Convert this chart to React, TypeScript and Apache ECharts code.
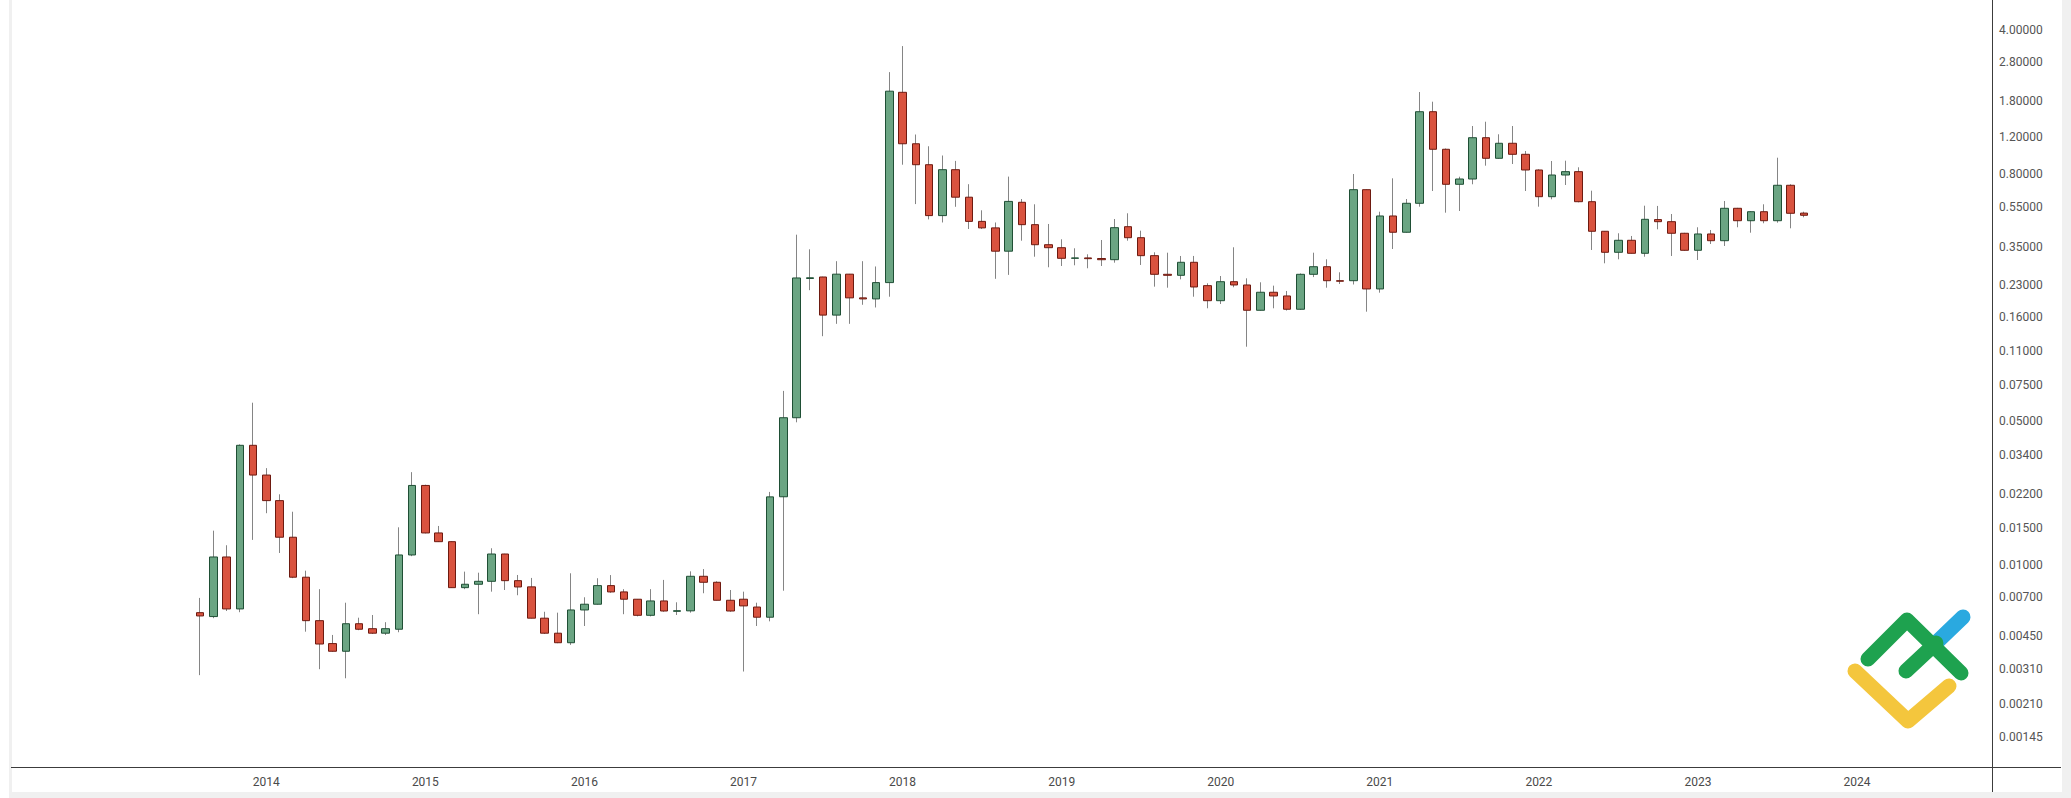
import React, { useEffect, useRef } from 'react';
import * as echarts from 'echarts';

// ---- data (monthly XRP/USD style candles, Aug 2013 .. Sep 2023) ----
const FIRST_AXIS_MONTH = { year: 2012, month: 6 };
const AXIS_MONTH_COUNT = 150;
const FIRST_CANDLE_MONTH = { year: 2013, month: 8 };

const opens = [
  0.00584, 0.00559, 0.0109, 0.00609, 0.0381, 0.0273, 0.0205, 0.0136, 0.00869, 0.00534,
  0.00413, 0.00379, 0.00516, 0.00488, 0.00464, 0.00485, 0.01115, 0.0243, 0.01427, 0.01294,
  0.00773, 0.00803, 0.0083, 0.01127, 0.00836, 0.0078, 0.00549, 0.00464, 0.00417, 0.00602,
  0.00642, 0.00791, 0.00737, 0.00679, 0.00567, 0.00666, 0.00593, 0.00596, 0.00878, 0.00821,
  0.00671, 0.00679, 0.00622, 0.00555, 0.0214, 0.0519, 0.247, 0.2512, 0.1639, 0.2593,
  0.1988, 0.1965, 0.2359, 1.99, 1.118, 0.884, 0.4998, 0.836, 0.6143, 0.4684,
  0.4355, 0.3354, 0.5802, 0.4515, 0.3607, 0.3488, 0.3097, 0.311, 0.309, 0.305,
  0.4414, 0.3902, 0.319, 0.2589, 0.256, 0.2962, 0.228, 0.1926, 0.2383, 0.2297,
  0.173, 0.2117, 0.2031, 0.175, 0.2589, 0.2819, 0.241, 0.241, 0.6683, 0.2197,
  0.4977, 0.4147, 0.5737, 1.6011, 1.051, 0.7099, 0.7531, 1.1964, 0.9499, 1.124,
  0.9934, 0.8332, 0.6177, 0.7877, 0.8177, 0.5841, 0.4193, 0.3313, 0.379, 0.3276,
  0.478, 0.4669, 0.41, 0.3388, 0.4068, 0.3773, 0.5425, 0.472, 0.5221, 0.472,
  0.7021, 0.514,
];

const closes = [
  0.00563, 0.0109, 0.00609, 0.0381, 0.0273, 0.0205, 0.0136, 0.00869, 0.00534, 0.00411,
  0.00379, 0.00516, 0.00485, 0.00464, 0.00488, 0.01115, 0.0243, 0.01427, 0.01294, 0.00773,
  0.00803, 0.0083, 0.01127, 0.00836, 0.00779, 0.00549, 0.00464, 0.00417, 0.00602, 0.00642,
  0.00791, 0.00737, 0.00679, 0.00567, 0.00666, 0.00595, 0.00597, 0.00878, 0.00821, 0.00671,
  0.00595, 0.0063, 0.00555, 0.02138, 0.0519, 0.2485, 0.249, 0.1639, 0.2593, 0.1988,
  0.1965, 0.2359, 2.015, 1.118, 0.884, 0.4998, 0.836, 0.6143, 0.4684, 0.4355,
  0.3354, 0.586, 0.4515, 0.3607, 0.3488, 0.3097, 0.311, 0.3085, 0.3049, 0.4365,
  0.3902, 0.319, 0.2589, 0.256, 0.2962, 0.2246, 0.1926, 0.2383, 0.2297, 0.173,
  0.2117, 0.2031, 0.175, 0.2589, 0.2819, 0.241, 0.2395, 0.6683, 0.2197, 0.4977,
  0.4147, 0.5737, 1.6011, 1.051, 0.7099, 0.7531, 1.1964, 0.9499, 1.124, 0.9934,
  0.8332, 0.6177, 0.7877, 0.8177, 0.5841, 0.4193, 0.3313, 0.379, 0.3276, 0.4795,
  0.4669, 0.41, 0.3388, 0.4068, 0.3773, 0.5425, 0.472, 0.5221, 0.472, 0.7021,
  0.5129, 0.5016,
];

const lows = [
  0.0029, 0.00549, 0.00595, 0.00587, 0.0132, 0.0178, 0.0114, 0.0086, 0.00472, 0.0031,
  0.00377, 0.0028, 0.0048, 0.0046, 0.00455, 0.00469, 0.011, 0.0142, 0.0129, 0.0077,
  0.0076, 0.00574, 0.00739, 0.00753, 0.0071, 0.00548, 0.0046, 0.00415, 0.00407, 0.00503,
  0.0064, 0.0073, 0.00574, 0.0056, 0.0056, 0.0059, 0.00569, 0.00584, 0.00726, 0.0067,
  0.0059, 0.00302, 0.00503, 0.0053, 0.00747, 0.0493, 0.2167, 0.1294, 0.1486, 0.1486,
  0.184, 0.1785, 0.2014, 0.884, 0.5686, 0.479, 0.4627, 0.5517, 0.43, 0.43,
  0.2461, 0.2572, 0.3773, 0.3153, 0.2801, 0.2842, 0.2864, 0.277, 0.2842, 0.2949,
  0.3773, 0.2874, 0.2254, 0.2228, 0.2447, 0.2014, 0.1769, 0.1856, 0.2239, 0.115,
  0.1725, 0.1769, 0.1725, 0.174, 0.2509, 0.2228, 0.2323, 0.231, 0.1703, 0.2107,
  0.3438, 0.413, 0.5523, 0.6585, 0.5164, 0.5263, 0.7099, 0.8744, 0.945, 0.891,
  0.6585, 0.5523, 0.6, 0.7043, 0.58, 0.34, 0.2929, 0.3063, 0.327, 0.3153,
  0.4286, 0.3179, 0.337, 0.3039, 0.3636, 0.3556, 0.4385, 0.4127, 0.4586, 0.4617,
  0.4335, 0.4905,
];

const highs = [
  0.00689, 0.01464, 0.01243, 0.0385, 0.0614, 0.0295, 0.022, 0.0181, 0.00935, 0.0076,
  0.00455, 0.00653, 0.00552, 0.00569, 0.00525, 0.0152, 0.0282, 0.0245, 0.01543, 0.013,
  0.00925, 0.00914, 0.01202, 0.0113, 0.00891, 0.00862, 0.0059, 0.00584, 0.00908, 0.00694,
  0.00859, 0.0089, 0.0076, 0.0068, 0.0076, 0.00843, 0.00656, 0.00928, 0.00952, 0.0083,
  0.00753, 0.00739, 0.00653, 0.0226, 0.0701, 0.4036, 0.3426, 0.252, 0.2999, 0.26,
  0.2999, 0.2826, 2.495, 3.34, 1.24, 1.087, 0.98, 0.9226, 0.7105, 0.5304,
  0.4627, 0.7737, 0.6019, 0.5673, 0.455, 0.3833, 0.3465, 0.3239, 0.3803, 0.4812,
  0.5129, 0.4221, 0.3313, 0.3298, 0.3179, 0.318, 0.2341, 0.254, 0.3504, 0.2475,
  0.2367, 0.228, 0.2148, 0.2614, 0.3298, 0.3063, 0.2648, 0.7967, 0.67, 0.5221,
  0.759, 0.6019, 1.9966, 1.791, 1.06, 0.7728, 1.3638, 1.4313, 1.243, 1.3638,
  1.031, 0.84, 0.9215, 0.9247, 0.8588, 0.6607, 0.42, 0.41, 0.3978, 0.5585,
  0.557, 0.5088, 0.412, 0.4385, 0.4254, 0.5887, 0.545, 0.525, 0.5673, 0.9563,
  0.71, 0.5221,
];

const priceTicks = [
  4, 2.8, 1.8, 1.2, 0.8, 0.55, 0.35, 0.23, 0.16, 0.11, 0.075,
  0.05, 0.034, 0.022, 0.015, 0.01, 0.007, 0.0045, 0.0031, 0.0021, 0.00145,
];
const priceTickLabels = [
  '4.00000', '2.80000', '1.80000', '1.20000', '0.80000', '0.55000', '0.35000', '0.23000',
  '0.16000', '0.11000', '0.07500', '0.05000', '0.03400', '0.02200', '0.01500', '0.01000',
  '0.00700', '0.00450', '0.00310', '0.00210', '0.00145',
];

const PRICE_MIN = 0.001036;
const PRICE_MAX = 5.598;

function monthKey(year: number, month: number, offset: number): string {
  const t = year * 12 + (month - 1) + offset;
  const y = Math.floor(t / 12);
  const m = (t % 12) + 1;
  return `${y}-${m < 10 ? '0' + m : m}`;
}

const axisMonths = Array.from({ length: AXIS_MONTH_COUNT }, (_, i) =>
  monthKey(FIRST_AXIS_MONTH.year, FIRST_AXIS_MONTH.month, i)
);
const candleMonths = opens.map((_, i) =>
  monthKey(FIRST_CANDLE_MONTH.year, FIRST_CANDLE_MONTH.month, i)
);
const firstCandleKey = candleMonths[0];

const FONT = 'Roboto, "Open Sans", sans-serif';

export default function App() {
  const ref = useRef<HTMLDivElement>(null);

  useEffect(() => {
    if (!ref.current) return;
    const chart = echarts.init(ref.current, undefined, { renderer: 'svg' });

    const wickData = candleMonths.map((m, i) => [m, opens[i], closes[i], lows[i], highs[i]]);
    const bodyData = candleMonths.map((m, i) => [
      m,
      opens[i],
      closes[i],
      Math.min(opens[i], closes[i]),
      Math.max(opens[i], closes[i]),
    ]);

    chart.setOption({
      animation: false,
      backgroundColor: '#ffffff',
      grid: {
        left: 7.8,
        top: 0,
        width: 1988.4,
        height: 767,
        containLabel: false,
        outerBoundsMode: 'none',
      },
      xAxis: {
        type: 'category',
        data: axisMonths,
        boundaryGap: true,
        axisLine: { show: false },
        axisTick: { show: false },
        splitLine: { show: false },
        axisLabel: {
          interval: (_i: number, v: string) => v.endsWith('-01') && v >= firstCandleKey,
          formatter: (v: string) => v.slice(0, 4),
          color: '#4a4a4a',
          fontSize: 12,
          fontFamily: FONT,
          margin: 9,
        },
      },
      yAxis: {
        type: 'log',
        logBase: 10,
        min: PRICE_MIN,
        max: PRICE_MAX,
        position: 'right',
        axisLine: { show: false },
        axisTick: { show: false },
        axisLabel: { show: false },
        splitLine: { show: false },
      },
      series: [
        {
          type: 'candlestick',
          name: 'wicks',
          data: wickData,
          encode: { x: 0, y: [1, 2, 3, 4] },
          barWidth: 0.5,
          silent: true,
          itemStyle: {
            color: '#858585',
            color0: '#858585',
            borderColor: '#858585',
            borderColor0: '#858585',
            borderWidth: 1,
          },
        },
        {
          type: 'candlestick',
          name: 'bodies',
          data: bodyData,
          encode: { x: 0, y: [1, 2, 3, 4] },
          barWidth: 8,
          itemStyle: {
            color: '#6ba583',
            color0: '#d9533f',
            borderColor: '#1f4f35',
            borderColor0: '#6e1a10',
            borderWidth: 1,
          },
        },
      ],
    });

    const labelGraphics = priceTicks.map((v, i) => {
      const y = chart.convertToPixel({ yAxisIndex: 0 }, v) as number;
      return {
        type: 'text',
        x: 1999,
        y,
        silent: true,
        style: {
          text: priceTickLabels[i],
          fill: '#555555',
          fontSize: 12,
          fontFamily: FONT,
          textAlign: 'left',
          textVerticalAlign: 'middle',
          align: 'left',
          verticalAlign: 'middle',
        },
      };
    });

    const stroke = (points: number[][], color: string, z: number) => ({
      type: 'polyline',
      silent: true,
      z,
      shape: { points },
      style: { stroke: color, lineWidth: 15, lineCap: 'round', lineJoin: 'round', fill: 'none' },
    });

    chart.setOption({
      graphic: [
        // frame strips
        { type: 'rect', silent: true, shape: { x: 9, y: 0, width: 3, height: 798 }, style: { fill: '#f0f0f0' } },
        { type: 'rect', silent: true, shape: { x: 2062, y: 0, width: 9, height: 798 }, style: { fill: '#f0f0f0' } },
        { type: 'rect', silent: true, shape: { x: 9, y: 792, width: 2062, height: 6 }, style: { fill: '#f0f0f0' } },
        // axis lines
        { type: 'line', silent: true, shape: { x1: 11, y1: 767.5, x2: 2061, y2: 767.5 }, style: { stroke: '#3c3c3c', lineWidth: 1 } },
        { type: 'line', silent: true, shape: { x1: 1992.5, y1: 0, x2: 1992.5, y2: 792 }, style: { stroke: '#3c3c3c', lineWidth: 1 } },
        // logo
        stroke([[1855, 671], [1908, 721], [1949, 686]], '#f4c63d', 10),
        stroke([[1938, 641], [1963, 617]], '#2aa9e0', 11),
        stroke([[1906, 671], [1936, 643]], '#1ea24f', 12),
        stroke([[1868, 659], [1907, 620], [1961, 673]], '#1ea24f', 12),
        ...labelGraphics,
      ],
    });

    return () => chart.dispose();
  }, []);

  return (
    <div
      ref={ref}
      style={{ position: 'absolute', left: 0, top: 0, width: 2071, height: 798 }}
    />
  );
}
